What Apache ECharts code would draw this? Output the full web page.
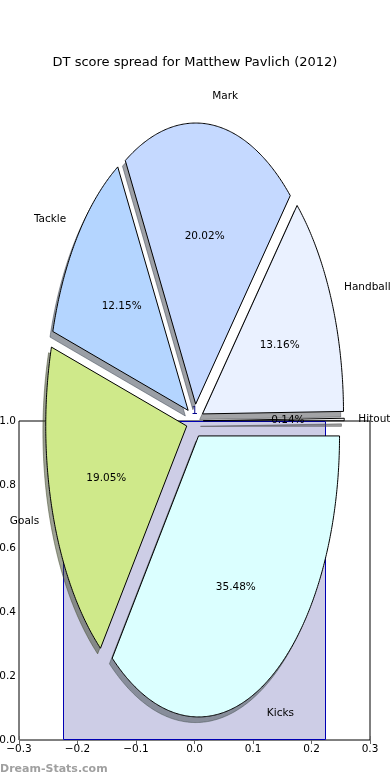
<!DOCTYPE html>
<html>
<head>
<meta charset="utf-8">
<script src="https://cdn.jsdelivr.net/npm/echarts@6/dist/echarts.min.js"></script>
<style>
html,body{margin:0;padding:0;background:#fff;}
#chart{width:390px;height:780px;}
</style>
</head>
<body>
<div id="chart"></div>
<script>
// ---------------- data ----------------
const categories = ['Hitout', 'Handball', 'Mark', 'Tackle', 'Goals', 'Kicks'];
const shares = [0.14, 13.16, 20.02, 12.15, 19.05, 35.48];
const barX = [0];
const barValues = [1];
const xTicks = [-0.3, -0.2, -0.1, 0.0, 0.1, 0.2, 0.3];
const yTicks = [0.0, 0.2, 0.4, 0.6, 0.8, 1.0];
const titleText = 'DT score spread for Matthew Pavlich (2012)';
const watermark = 'Dream-Stats.com';

// ---------------- style ----------------
const wedgeColors = ['#eeeeee', '#eaf1ff', '#c5d9ff', '#b4d5ff', '#cfe98a', '#dbffff'];
const EXPLODE = 0.06;
const SHADOW_OFF = -0.02;
const FONT = 'DejaVu Sans';

const total = shares.reduce((a, b) => a + b, 0);
const cum = [0];
shares.forEach(v => cum.push(cum[cum.length - 1] + v));

function angles(i) {
  const a1 = 2 * Math.PI * cum[i] / total;
  const a2 = 2 * Math.PI * cum[i + 1] / total;
  return [a1, a2, (a1 + a2) / 2];
}
function wedgePoints(i, api, dx, dy) {
  const [a1, a2, m] = angles(i);
  const cx = EXPLODE * Math.cos(m) + dx, cy = EXPLODE * Math.sin(m) + dy;
  const pts = [api.coord([cx, cy])];
  const n = Math.max(2, Math.ceil((a2 - a1) / (Math.PI / 360)));
  for (let k = 0; k <= n; k++) {
    const t = a1 + (a2 - a1) * k / n;
    pts.push(api.coord([cx + Math.cos(t), cy + Math.sin(t)]));
  }
  return pts;
}
function shade(hex) {
  const r = parseInt(hex.slice(1, 3), 16), g = parseInt(hex.slice(3, 5), 16), b = parseInt(hex.slice(5, 7), 16);
  return 'rgba(' + Math.round(r * 0.3) + ',' + Math.round(g * 0.3) + ',' + Math.round(b * 0.3) + ',0.5)';
}
const fmtTick = v => (v < -1e-9 ? '\u2212' : '') + Math.abs(v).toFixed(1);

const pieData = shares.map((v, i) => [0, 0, v]);

const chart = echarts.init(document.getElementById('chart'), null, {renderer: 'canvas'});
chart.setOption({
  animation: false,
  backgroundColor: '#fff',
  title: {
    text: titleText, left: 'center', top: 51,
    textStyle: {fontFamily: FONT, fontSize: 13, fontWeight: 'normal', color: '#000'}
  },
  grid: [
    {left: 4.45, top: 13.35, width: 380.7, height: 758.7, show: false, outerBoundsMode: 'none', containLabel: false},
    {left: 19, top: 421, width: 351, height: 319, show: true, borderColor: '#000', borderWidth: 1,
      backgroundColor: 'transparent', outerBoundsMode: 'none', containLabel: false}
  ],
  xAxis: [
    {gridIndex: 0, type: 'value', min: -1.35, max: 1.35, show: false},
    {gridIndex: 1, type: 'value', min: xTicks[0], max: xTicks[xTicks.length - 1], interval: 0.1, position: 'bottom',
      axisLine: {show: false}, splitLine: {show: false},
      axisTick: {show: true, inside: true, length: 4, lineStyle: {color: '#666'}},
      axisLabel: {margin: 4, fontFamily: FONT, fontSize: 10.5, color: '#000', formatter: fmtTick, hideOverlap: false}},
    {gridIndex: 1, type: 'value', min: xTicks[0], max: xTicks[xTicks.length - 1], interval: 0.1, position: 'top',
      axisLine: {show: false}, splitLine: {show: false},
      axisTick: {show: true, inside: true, length: 4, lineStyle: {color: '#666'}},
      axisLabel: {show: false}}
  ],
  yAxis: [
    {gridIndex: 0, type: 'value', min: -1.25, max: 1.45, show: false},
    {gridIndex: 1, type: 'value', min: yTicks[0], max: yTicks[yTicks.length - 1], interval: 0.2, position: 'left',
      axisLine: {show: false}, splitLine: {show: false},
      axisTick: {show: true, inside: true, length: 4, lineStyle: {color: '#666'}},
      axisLabel: {margin: 3, fontFamily: FONT, fontSize: 10.5, color: '#000', formatter: fmtTick, hideOverlap: false}},
    {gridIndex: 1, type: 'value', min: yTicks[0], max: yTicks[yTicks.length - 1], interval: 0.2, position: 'right',
      axisLine: {show: false}, splitLine: {show: false},
      axisTick: {show: true, inside: true, length: 4, lineStyle: {color: '#666'}},
      axisLabel: {show: false}}
  ],
  graphic: [{
    type: 'text', left: 0, top: 764,
    style: {text: watermark, fill: '#a0a0a0', fontFamily: FONT, fontSize: 11, fontWeight: 'bold'}
  }],
  series: [
    {
      type: 'bar', xAxisIndex: 1, yAxisIndex: 1, z: 1,
      data: barX.map((x, i) => [x, barValues[i]]),
      barWidth: 263,
      itemStyle: {color: '#cdcde6', borderColor: '#0000b4', borderWidth: 1},
      label: {show: true, position: 'top', distance: 4, color: '#00008b', fontFamily: FONT, fontSize: 10.5,
        formatter: p => String(p.value[1])}
    },
    {
      type: 'custom', xAxisIndex: 0, yAxisIndex: 0, z: 3, silent: true,
      data: pieData, encode: {x: 0, y: 1},
      renderItem: (params, api) => {
        const i = params.dataIndex;
        const c = shade(wedgeColors[i]);
        return {type: 'polygon', shape: {points: wedgePoints(i, api, SHADOW_OFF, SHADOW_OFF)},
          style: {fill: c, stroke: c, lineWidth: 1}};
      }
    },
    {
      type: 'custom', xAxisIndex: 0, yAxisIndex: 0, z: 4, silent: true,
      data: pieData, encode: {x: 0, y: 1},
      renderItem: (params, api) => {
        const i = params.dataIndex;
        return {type: 'polygon', shape: {points: wedgePoints(i, api, 0, 0)},
          style: {fill: wedgeColors[i], stroke: '#000', lineWidth: 1}};
      }
    },
    {
      type: 'custom', xAxisIndex: 0, yAxisIndex: 0, z: 5, silent: true,
      data: pieData, encode: {x: 0, y: 1},
      renderItem: (params, api) => {
        const i = params.dataIndex;
        const [, , m] = angles(i);
        const ex = EXPLODE * Math.cos(m), ey = EXPLODE * Math.sin(m);
        const lx = ex + 1.1 * Math.cos(m), ly = ey + 1.1 * Math.sin(m);
        const px = ex + 0.6 * Math.cos(m), py = ey + 0.6 * Math.sin(m);
        const lp = api.coord([lx, ly]);
        const pp = api.coord([px, py]);
        return {type: 'group', children: [
          {type: 'text', x: lp[0], y: lp[1],
            style: {text: categories[i], fill: '#000', fontFamily: FONT, fontSize: 10.5,
              align: lx > 0 ? 'left' : 'right', verticalAlign: 'middle'}},
          {type: 'text', x: pp[0], y: pp[1],
            style: {text: (100 * api.value(2) / total).toFixed(2) + '%', fill: '#000', fontFamily: FONT, fontSize: 10.5,
              align: 'center', verticalAlign: 'middle'}}
        ]};
      }
    }
  ]
});
</script>
</body>
</html>
